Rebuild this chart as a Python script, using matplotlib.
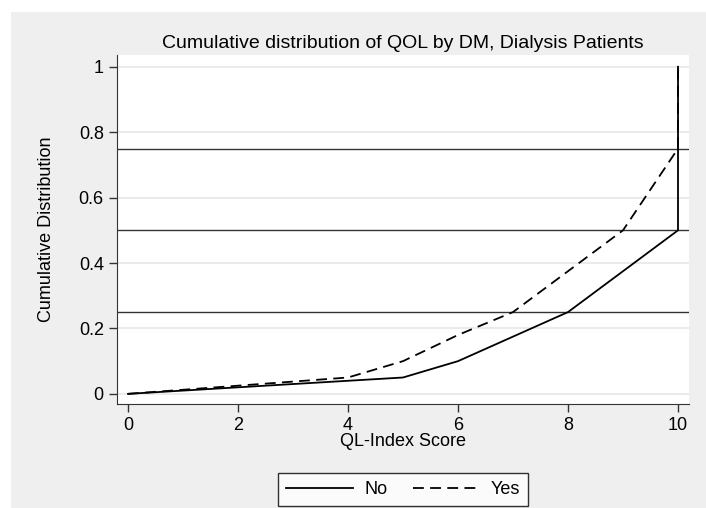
import matplotlib
matplotlib.use("Agg")
import matplotlib.pyplot as plt
from matplotlib.patches import Rectangle

# QL-Index score vs cumulative share, by diabetes status
x_no = [0, 2, 4, 5, 6, 7, 8, 9, 10, 10]
cdf_no = [0, 0.02, 0.04, 0.05, 0.10, 0.175, 0.25, 0.375, 0.5, 1.0]
x_yes = [0, 2, 4, 5, 6, 7, 8, 9, 10, 10]
cdf_yes = [0, 0.025, 0.05, 0.10, 0.18, 0.25, 0.375, 0.5, 0.75, 1.0]
quartiles = [0.25, 0.5, 0.75]
xticks = [0, 2, 4, 6, 8, 10]
yticks = [0, 0.2, 0.4, 0.6, 0.8, 1.0]
ytick_labels = ["0", "0.2", "0.4", "0.6", "0.8", "1"]

plt.rcParams['font.family'] = ['Liberation Sans', 'DejaVu Sans']

W, H = 706, 508
fig = plt.figure(figsize=(W / 100, H / 100), dpi=100, facecolor="white")
# grey graph region (Stata s2 style)
fig.patches.append(Rectangle((11 / W, 0), 1, 1 - 12 / H, transform=fig.transFigure,
                             facecolor="#efefef", edgecolor="none", zorder=-5))

left, right, top, bottom = 117, 689, 55, 404
ax = fig.add_axes([left / W, 1 - bottom / H, (right - left) / W, (bottom - top) / H])
ax.set_facecolor("white")

for yv in yticks:
    ax.axhline(yv, color="#e8e8e8", lw=1.2, zorder=1)
for q in quartiles:
    ax.axhline(q, color="#333333", lw=1.0, zorder=2)

ax.plot(x_no, cdf_no, color="black", lw=1.3, label="No", zorder=3)
ax.plot(x_yes, cdf_yes, color="black", lw=1.3, ls=(0, (6, 3.5)), label="Yes", zorder=3)

ax.set_xlim(-0.2, 10.2)
ax.set_ylim(-0.031, 1.036)
ax.set_xticks(xticks)
ax.set_yticks(yticks)
ax.set_yticklabels(ytick_labels)
ax.tick_params(labelsize=13, length=6, width=1, color="#333333")
for s in ["top", "right"]:
    ax.spines[s].set_visible(False)
for s in ["left", "bottom"]:
    ax.spines[s].set_color("#333333")

ax.set_xlabel("QL-Index Score", fontsize=13, labelpad=-1)
ax.set_ylabel("Cumulative Distribution", fontsize=13, labelpad=17)
ax.set_title("Cumulative distribution of QOL by DM, Dialysis Patients", fontsize=14, pad=5)

leg = ax.legend(loc="upper center", bbox_to_anchor=(0.5, -0.197), ncol=2, frameon=True,
                fancybox=False, edgecolor="black", fontsize=13, handlelength=3.7,
                handletextpad=0.6, columnspacing=1.4, borderpad=0.45, borderaxespad=0)
leg.get_frame().set_linewidth(1.0)

fig.savefig("out.png", dpi=100, facecolor=fig.get_facecolor())
